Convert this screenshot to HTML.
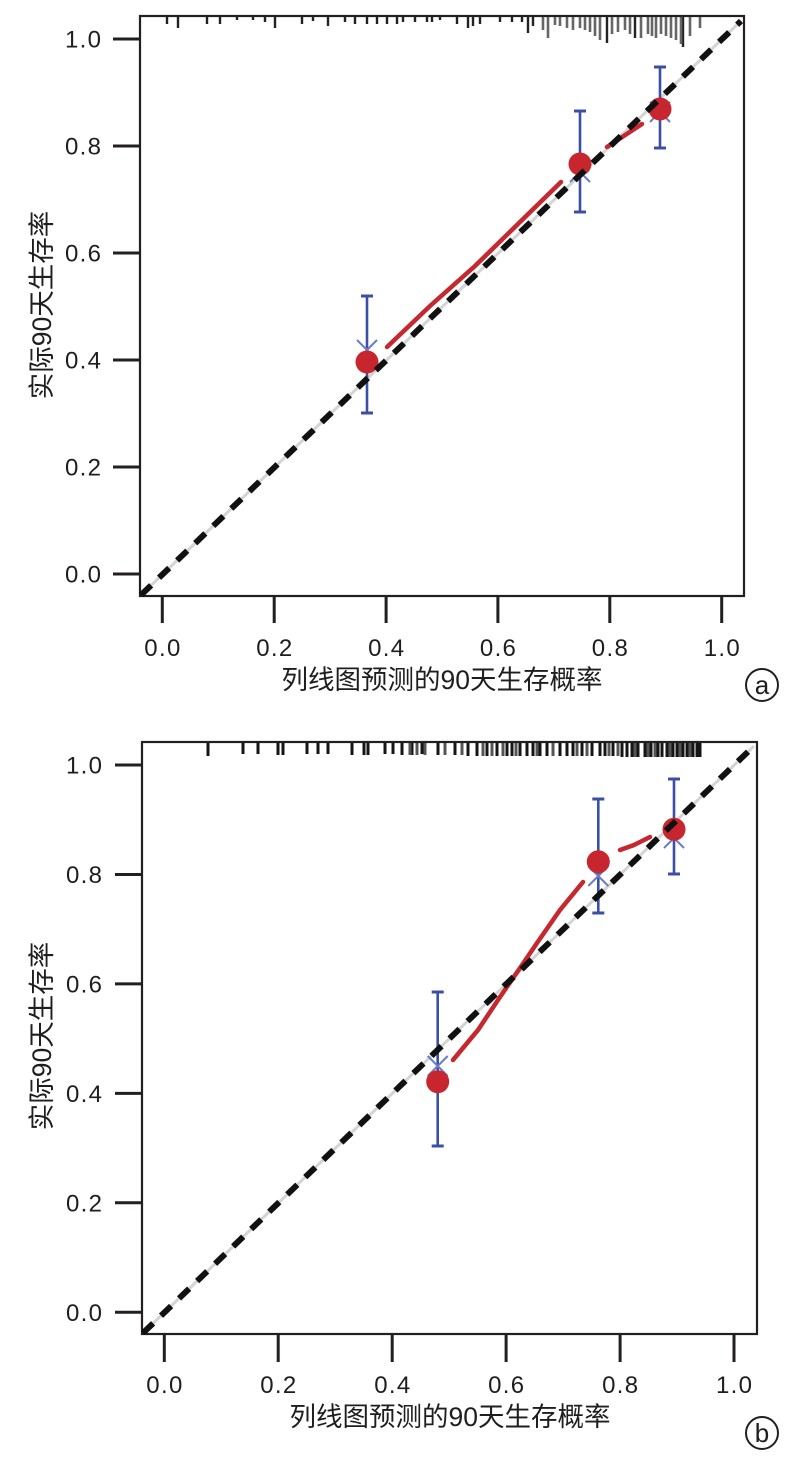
<!DOCTYPE html>
<html>
<head>
<meta charset="utf-8">
<style>
html,body{margin:0;padding:0;background:#fff;}
svg{display:block;}
text{font-family:"Liberation Sans","Noto Sans CJK SC",sans-serif;fill:#1e1e1e;}
.cjk{font-family:"Liberation Sans","Noto Sans CJK SC",sans-serif;font-size:26.5px;}
.tk{font-size:24px;}
</style>
</head>
<body>
<svg width="792" height="1478" viewBox="0 0 792 1478" xmlns="http://www.w3.org/2000/svg">
<rect x="0" y="0" width="792" height="1478" fill="#fff"/>

<!-- ================= PANEL A ================= -->
<g>
  <line x1="141" y1="595" x2="741" y2="21" stroke="#d4d4d4" stroke-width="3"/>

  <path d="M167 17V24M178 17V28M207 17V24M220 17V24M237 17V20M253 17V20M265 17V22M275 17V28M302 17V24M313 17V21M328 17V26M345 17V22M355 17V24M367 17V24M377 17V24M387 17V24M397 17V24M403 17V22M415 17V22M427 17V22M432 17V22M440 17V20M457 17V24M468 17V28M473 17V26M480 17V24M500 17V22M512 17V22M522 17V22M528 17V33M533 17V26M607 17V43M635 17V38M683 17V47" stroke="#222" stroke-width="2.4" fill="none"/>
  <path d="M543 17V30M548 17V38M555 17V25M560 17V26M567 17V28M573 17V30M580 17V28M585 17V30M590 17V32M595 17V36M600 17V40M612 17V34M618 17V32M625 17V30M630 17V34M641 17V38M648 17V34M652 17V36M656 17V38M661 17V34M666 17V36M671 17V38M676 17V40M681 17V44M690 17V36M700 17V28" stroke="#666" stroke-width="2.6" fill="none"/>

  <rect x="140" y="16" width="604" height="580" fill="none" stroke="#231f20" stroke-width="2.2"/>

  <g stroke="#231f20" stroke-width="3">
    <line x1="113" y1="574" x2="140" y2="574"/>
    <line x1="113" y1="467" x2="140" y2="467"/>
    <line x1="113" y1="360" x2="140" y2="360"/>
    <line x1="113" y1="253" x2="140" y2="253"/>
    <line x1="113" y1="146" x2="140" y2="146"/>
    <line x1="113" y1="39" x2="140" y2="39"/>
  </g>
  <g class="tk" text-anchor="end">
    <text x="101" y="582.5" textLength="36" lengthAdjust="spacing">0.0</text>
    <text x="101" y="475.5" textLength="36" lengthAdjust="spacing">0.2</text>
    <text x="101" y="368.5" textLength="36" lengthAdjust="spacing">0.4</text>
    <text x="101" y="261.5" textLength="36" lengthAdjust="spacing">0.6</text>
    <text x="101" y="154.5" textLength="36" lengthAdjust="spacing">0.8</text>
    <text x="101" y="47.5" textLength="36" lengthAdjust="spacing">1.0</text>
  </g>

  <g stroke="#231f20" stroke-width="3">
    <line x1="162.3" y1="596" x2="162.3" y2="623"/>
    <line x1="274.2" y1="596" x2="274.2" y2="623"/>
    <line x1="386.1" y1="596" x2="386.1" y2="623"/>
    <line x1="497.9" y1="596" x2="497.9" y2="623"/>
    <line x1="609.8" y1="596" x2="609.8" y2="623"/>
    <line x1="721.7" y1="596" x2="721.7" y2="623"/>
  </g>
  <g class="tk">
    <text x="144.3" y="656" textLength="36" lengthAdjust="spacing">0.0</text>
    <text x="256.2" y="656" textLength="36" lengthAdjust="spacing">0.2</text>
    <text x="368.1" y="656" textLength="36" lengthAdjust="spacing">0.4</text>
    <text x="479.9" y="656" textLength="36" lengthAdjust="spacing">0.6</text>
    <text x="591.8" y="656" textLength="36" lengthAdjust="spacing">0.8</text>
    <text x="703.7" y="656" textLength="36" lengthAdjust="spacing">1.0</text>
  </g>

  <text class="cjk" x="442" y="689" text-anchor="middle">列线图预测的90天生存概率</text>
  <text class="cjk" x="0" y="0" text-anchor="middle" transform="translate(51,305) rotate(-90)">实际90天生存率</text>

  <circle cx="762" cy="685" r="16" fill="none" stroke="#231f20" stroke-width="2"/>
  <text x="762" y="694" text-anchor="middle" style="font-size:26px">a</text>

  <g stroke="#3b4fa3" stroke-width="2.6" fill="none">
    <line x1="367" y1="296" x2="367" y2="413"/>
    <line x1="361" y1="296" x2="373" y2="296" stroke-width="3"/>
    <line x1="361" y1="413" x2="373" y2="413" stroke-width="3"/>
    <line x1="580" y1="111" x2="580" y2="212"/>
    <line x1="574" y1="111" x2="586" y2="111" stroke-width="3"/>
    <line x1="574" y1="212" x2="586" y2="212" stroke-width="3"/>
    <line x1="660" y1="67" x2="660" y2="148"/>
    <line x1="654" y1="67" x2="666" y2="67" stroke-width="3"/>
    <line x1="654" y1="148" x2="666" y2="148" stroke-width="3"/>
  </g>
  <g stroke="#6a7cc6" stroke-width="2">
    <path d="M357 340L377 360M377 340L357 360"/>
    <path d="M570 162L590 182M590 162L570 182"/>
    <path d="M650 102L670 122M670 102L650 122"/>
  </g>
  <g stroke="#c5282f" stroke-width="4.5" fill="none" stroke-linecap="round">
    <path d="M387 347L430 306L475 266L520 222L561 182"/>
    <path d="M607 147L642 124"/>
  </g>
  <g fill="#c8262e">
    <circle cx="367" cy="362" r="11.5"/>
    <circle cx="580" cy="164" r="11.5"/>
    <circle cx="660" cy="109" r="11.5"/>
  </g>
  <line x1="141" y1="595" x2="741" y2="21" stroke="#111" stroke-width="6" stroke-dasharray="14 11"/>
</g>

<!-- ================= PANEL B ================= -->
<g>
  <line x1="143" y1="1333" x2="754" y2="746" stroke="#d4d4d4" stroke-width="3"/>

  <path d="M208 743V756M243 743V754M258 743V754M278 743V755M283 743V755M307 743V754M318 743V754M328 743V754M352 743V755M364 743V755M368 743V755M385 743V754M393 743V754M402 743V755M412 743V755M422 743V754M438 743V755M455 743V755M468 743V756M477 743V756M487 743V756M497 743V756M507 743V756M512 743V756M520 743V756M527 743V756M533 743V756M540 743V756M547 743V756M560 743V756M567 743V756M573 743V756M582 743V756M592 743V756M600 743V756M605 743V756M613 743V756M622 743V757M627 743V757M632 743V757M638 743V757M645 743V757M651 743V757M658 743V757M662 743V757M667 743V757M673 743V757M677 743V757M683 743V757M687 743V757M693 743V757M697 743V757M700 743V757" stroke="#151515" stroke-width="3" fill="none"/>
  <path d="M410 743V755M417 743V755M425 743V755M445 743V755M462 743V755M483 743V756M492 743V756M503 743V756M516 743V756M537 743V756M553 743V756M577 743V756M587 743V756M609 743V756M618 743V756M635 743V757M648 743V757M655 743V757M670 743V757M680 743V757M690 743V757" stroke="#555" stroke-width="3" fill="none"/>

  <rect x="142" y="742" width="615" height="592" fill="none" stroke="#231f20" stroke-width="2.2"/>

  <g stroke="#231f20" stroke-width="3">
    <line x1="115" y1="1312.3" x2="142" y2="1312.3"/>
    <line x1="115" y1="1202.8" x2="142" y2="1202.8"/>
    <line x1="115" y1="1093.4" x2="142" y2="1093.4"/>
    <line x1="115" y1="983.9" x2="142" y2="983.9"/>
    <line x1="115" y1="874.5" x2="142" y2="874.5"/>
    <line x1="115" y1="765" x2="142" y2="765"/>
  </g>
  <g class="tk" text-anchor="end">
    <text x="102" y="1320.8" textLength="36" lengthAdjust="spacing">0.0</text>
    <text x="102" y="1211.3" textLength="36" lengthAdjust="spacing">0.2</text>
    <text x="102" y="1101.9" textLength="36" lengthAdjust="spacing">0.4</text>
    <text x="102" y="992.4" textLength="36" lengthAdjust="spacing">0.6</text>
    <text x="102" y="883" textLength="36" lengthAdjust="spacing">0.8</text>
    <text x="102" y="773.5" textLength="36" lengthAdjust="spacing">1.0</text>
  </g>

  <g stroke="#231f20" stroke-width="3">
    <line x1="164.3" y1="1334" x2="164.3" y2="1362"/>
    <line x1="278.2" y1="1334" x2="278.2" y2="1362"/>
    <line x1="392.2" y1="1334" x2="392.2" y2="1362"/>
    <line x1="506.1" y1="1334" x2="506.1" y2="1362"/>
    <line x1="620.1" y1="1334" x2="620.1" y2="1362"/>
    <line x1="734" y1="1334" x2="734" y2="1362"/>
  </g>
  <g class="tk">
    <text x="146.3" y="1393" textLength="36" lengthAdjust="spacing">0.0</text>
    <text x="260.2" y="1393" textLength="36" lengthAdjust="spacing">0.2</text>
    <text x="374.2" y="1393" textLength="36" lengthAdjust="spacing">0.4</text>
    <text x="488.1" y="1393" textLength="36" lengthAdjust="spacing">0.6</text>
    <text x="602.1" y="1393" textLength="36" lengthAdjust="spacing">0.8</text>
    <text x="716" y="1393" textLength="36" lengthAdjust="spacing">1.0</text>
  </g>

  <text class="cjk" x="450" y="1426" text-anchor="middle">列线图预测的90天生存概率</text>
  <text class="cjk" x="0" y="0" text-anchor="middle" transform="translate(51,1036) rotate(-90)">实际90天生存率</text>

  <circle cx="762" cy="1433" r="16" fill="none" stroke="#231f20" stroke-width="2"/>
  <text x="762" y="1442" text-anchor="middle" style="font-size:26px">b</text>

  <g stroke="#3b4fa3" stroke-width="2.6" fill="none">
    <line x1="437.7" y1="992" x2="437.7" y2="1146"/>
    <line x1="431.7" y1="992" x2="443.7" y2="992" stroke-width="3"/>
    <line x1="431.7" y1="1146" x2="443.7" y2="1146" stroke-width="3"/>
    <line x1="598.3" y1="799" x2="598.3" y2="913"/>
    <line x1="592.3" y1="799" x2="604.3" y2="799" stroke-width="3"/>
    <line x1="592.3" y1="913" x2="604.3" y2="913" stroke-width="3"/>
    <line x1="674" y1="779" x2="674" y2="874"/>
    <line x1="668" y1="779" x2="680" y2="779" stroke-width="3"/>
    <line x1="668" y1="874" x2="680" y2="874" stroke-width="3"/>
  </g>
  <g stroke="#6a7cc6" stroke-width="2">
    <path d="M427.7 1056L447.7 1076M447.7 1056L427.7 1076"/>
    <path d="M588.3 866L608.3 886M608.3 866L588.3 886"/>
    <path d="M664 828L684 848M684 828L664 848"/>
  </g>
  <g stroke="#c5282f" stroke-width="4.5" fill="none" stroke-linecap="round">
    <path d="M453 1060L478 1030L500 997L520 968L537 943L560 910L583 882"/>
    <path d="M620 850L634 845L650 837"/>
  </g>
  <g fill="#c8262e">
    <circle cx="437.7" cy="1081.7" r="11.5"/>
    <circle cx="598.3" cy="861.7" r="11.5"/>
    <circle cx="674" cy="829.3" r="11.5"/>
  </g>
  <line x1="143" y1="1333" x2="754" y2="746" stroke="#111" stroke-width="6" stroke-dasharray="14 11"/>
</g>
</svg>
</body>
</html>
